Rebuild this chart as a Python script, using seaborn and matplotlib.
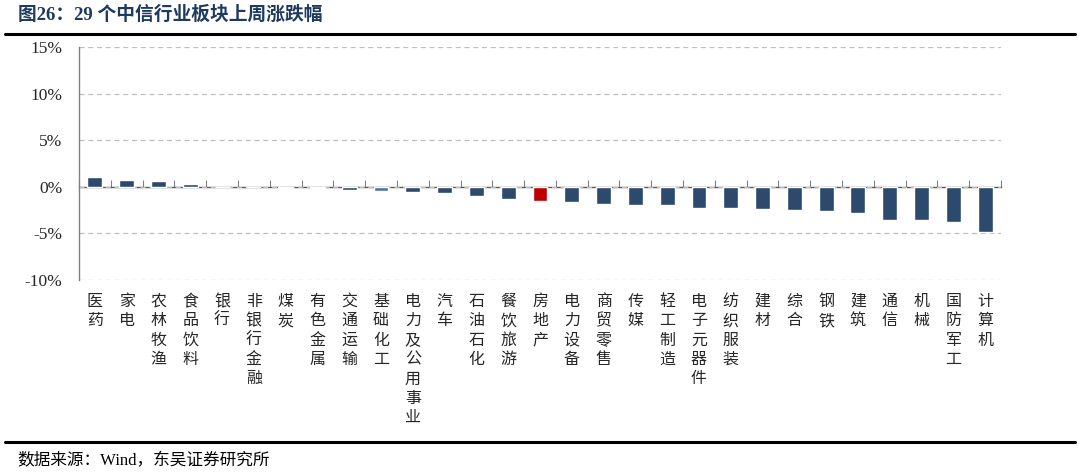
import seaborn as sns
import matplotlib.pyplot as plt
import numpy as np

# 29 个中信行业上周涨跌幅（%）
industries = ['医药', '家电', '农林牧渔', '食品饮料', '银行', '非银行金融', '煤炭',
              '有色金属', '交通运输', '基础化工', '电力及公用事业', '汽车', '石油石化',
              '餐饮旅游', '房地产', '电力设备', '商贸零售', '传媒', '轻工制造',
              '电子元器件', '纺织服装', '建材', '综合', '钢铁', '建筑', '通信',
              '机械', '国防军工', '计算机']
changes = [1.03, 0.68, 0.64, 0.35, 0.02, -0.02, -0.10, -0.12, -0.33, -0.47,
           -0.61, -0.68, -1.04, -1.36, -1.47, -1.63, -1.81, -1.91, -1.99,
           -2.27, -2.30, -2.38, -2.48, -2.55, -2.84, -3.55, -3.58, -3.79, -4.82]
yticks = [-10, -5, 0, 5, 10, 15]

navy = '#2C4A6E'
bar_colors = {c: navy for c in industries}
bar_colors['房地产'] = '#C00000'
bar_colors['基础化工'] = '#4A76AA'

sns.set_style('white')
plt.rcParams['font.family'] = ['Liberation Serif', 'Noto Sans CJK SC']
plt.rcParams['axes.unicode_minus'] = False

fig = plt.figure(figsize=(10.8, 4.74), dpi=100)
ax = fig.add_axes([0.0731, 0.4093, 0.8538, 0.4915])

labels = ['\n'.join(c) for c in industries]
sns.barplot(x=industries, y=changes, hue=industries, palette=bar_colors,
            legend=False, width=0.47, saturation=1, ax=ax)

ax.set_xlim(-0.5, len(industries) - 0.5)
ax.set_ylim(-10, 15)
ax.set_yticks(yticks)
ax.set_yticklabels([f'{v}%' for v in yticks], fontsize=12.5)
ax.tick_params(axis='y', length=3, width=0.8, color='#808080', pad=9, direction='out')
ax.set_xticks(range(len(industries)))
ax.set_xticklabels(labels, fontsize=11.5, linespacing=1.28, va='top')
ax.tick_params(axis='x', length=0, pad=10)
ax.set_xlabel('')
ax.set_ylabel('')

ax.grid(axis='y', linestyle=(0, (4, 3)), color='#BFBFBF', linewidth=0.9)
ax.set_axisbelow(True)
for s in ['top', 'right', 'bottom']:
    ax.spines[s].set_visible(False)
ax.spines['left'].set_color('#808080')
ax.spines['left'].set_linewidth(1)

# zero line with category boundary ticks
zero_pos = (0 - yticks[0]) / (yticks[-1] - yticks[0])
sec = ax.secondary_xaxis(zero_pos)
sec.set_xticks(np.arange(len(industries) + 1) - 0.5)
sec.set_xticklabels([])
sec.tick_params(axis='x', direction='in', length=5, width=0.8, color='#808080')
sec.spines['bottom'].set_color('#595959')
sec.spines['bottom'].set_linewidth(1)

# title, rules and source
fig.text(0.017, 0.968, '图26：29 个中信行业板块上周涨跌幅', fontsize=13.5,
         fontweight='bold', color='#1F3A60', va='center', ha='left')
fig.add_artist(plt.Line2D([0.005, 0.995], [0.929, 0.929], color='black', linewidth=2.2))
fig.add_artist(plt.Line2D([0.005, 0.995], [0.067, 0.067], color='black', linewidth=2.2))
fig.text(0.016, 0.027, '数据来源：Wind，东吴证券研究所', fontsize=12,
         color='black', va='center', ha='left')

fig.savefig('out.png', dpi=100)
